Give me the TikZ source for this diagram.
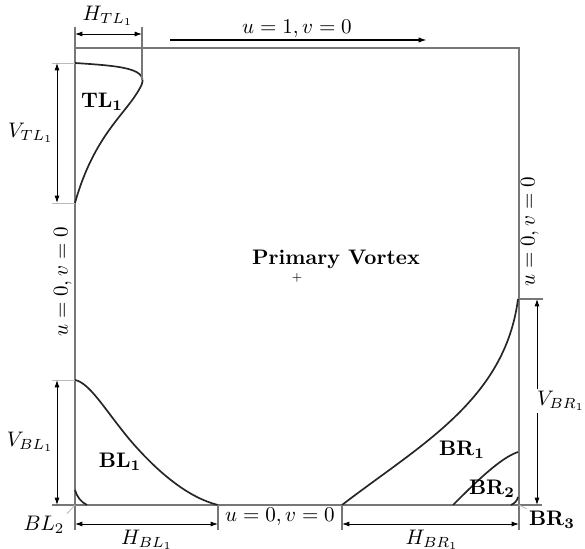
\documentclass[tikz,border=0pt]{standalone}
\usepackage{amsmath,amssymb}
\usepackage{tikz}
\usetikzlibrary{arrows.meta,positioning,calc}
\usepackage{xcolor}
\definecolor{wallgray}{HTML}{777777}
\definecolor{extgray}{HTML}{BBBBBB}

\tikzset{
  wall/.style={draw=wallgray, line width=0.5pt},
  extline/.style={draw=extgray, line width=0.4pt},
  dimline/.style={draw=black, line width=0.45pt, {Latex[length=3.5pt,width=2.4pt]}-{Latex[length=3.5pt,width=2.4pt]}},
  eddyline/.style={draw=black!85, line width=0.8pt, line join=round},
  lbl/.style={inner sep=1pt}
}

\begin{document}
\begin{tikzpicture}[x=0.475pt, y=-0.475pt]
  \useasboundingbox (0,0) rectangle (585,549);

  % cavity corners and wall ends
  \coordinate (tl) at (75,48);
  \coordinate (tr) at (519,48);
  \coordinate (br) at (519,505);
  \coordinate (bl) at (75,505);
  \coordinate (lwtop) at (75,27);
  \coordinate (lwbot) at (75,530);
  \coordinate (rwbot) at (519,530);
  \coordinate (bwleft) at (52,505);
  \coordinate (bwright) at (542,505);

  % walls
  \draw[wall] (lwtop) -- (lwbot);
  \draw[wall] (tl) -- (tr) -- (rwbot);
  \draw[wall] (bwleft) -- (bwright);

  % moving lid
  \coordinate (lidA) at (170,40);
  \coordinate (lidB) at (427,40);
  \draw[line width=0.8pt, -{Latex[length=4pt,width=2.6pt]}] (lidA) -- (lidB);
  \node[lbl] (lidtxt) at (297,29) {$u=1, v=0$};

  % wall conditions
  \node[lbl, rotate=90] (leftbc) at (63,282) {$u=0, v=0$};
  \node[lbl, rotate=90] (rightbc) at (530,232) {$u=0, v=0$};
  \node[lbl] (botbc) at (280,517) {$u=0, v=0$};

  % primary vortex
  \node[lbl] (pvtxt) at (336,259) {\textbf{Primary Vortex}};
  \node[inner sep=0pt] (pvc) at (297,278) {\tiny$+$};

  % secondary eddies
  \draw[eddyline] (75,63) .. controls (120,66) and (152,68) .. (140,88)
    .. controls (126,114) and (94,135) .. (75,203);
  \draw[eddyline] (75,380) .. controls (90,383) and (105,410) .. (130,440)
    .. controls (160,475) and (190,498) .. (218,505);
  \draw[eddyline] (75,490) .. controls (77,497) and (81,502) .. (87,505);
  \draw[eddyline] (342,505) .. controls (420,445) and (505,400) .. (518,299);
  \draw[eddyline] (453,505) .. controls (475,483) and (500,458) .. (518,452);
  \draw[eddyline] (511,505) .. controls (515,503) and (517,501) .. (518,497);

  \node[lbl] (tl1) at (102,102) {$\mathbf{TL_1}$};
  \node[lbl] (bl1) at (120,462) {$\mathbf{BL_1}$};
  \node[lbl] (br1) at (462,450) {$\mathbf{BR_1}$};
  \node[lbl] (br2) at (492,489) {$\mathbf{BR_2}$};
  \node[lbl] (br3) at (552,520) {$\mathbf{BR_3}$};
  \node[lbl] (bl2) at (44,525) {$BL_2$};
  \draw[extline] (bl) -- (bl2.north east);
  \draw[extline] (br) -- (br3.north west);

  % extension lines
  \coordinate (htlA) at (75,34);
  \coordinate (htlB) at (142,34);
  \coordinate (htlext) at (142,27);
  \coordinate (tlapex) at (142,80);
  \draw[wall] (htlext) -- (tlapex);
  \coordinate (vtlA) at (57,63);
  \coordinate (vtlB) at (57,203);
  \draw[extline] (52,63) -- (75,63);
  \draw[extline] (52,203) -- (75,203);
  \coordinate (vblA) at (57,380);
  \coordinate (vblB) at (57,505);
  \draw[extline] (52,380) -- (75,380);
  \coordinate (hblA) at (75,524);
  \coordinate (hblB) at (218,524);
  \draw[wall] (218,505) -- (218,530);
  \coordinate (hbrA) at (342,524);
  \coordinate (hbrB) at (519,524);
  \draw[wall] (342,505) -- (342,530);
  \coordinate (vbrA) at (537,299);
  \coordinate (vbrB) at (537,505);
  \draw[wall] (519,299) -- (543,299);

  % dimensions
  \draw[dimline] (htlA) -- (htlB);
  \node[lbl] (htltxt) at (108,16) {$H_{TL_1}$};
  \draw[dimline] (vtlA) -- (vtlB);
  \node[lbl, anchor=east] (vtltxt) at (56,133) {$V_{TL_1}$};
  \draw[dimline] (vblA) -- (vblB);
  \node[lbl, anchor=east] (vbltxt) at (56,442) {$V_{BL_1}$};
  \draw[dimline] (hblA) -- (hblB);
  \node[lbl] (hbltxt) at (147,540) {$H_{BL_1}$};
  \draw[dimline] (hbrA) -- (hbrB);
  \node[lbl] (hbrtxt) at (432,540) {$H_{BR_1}$};
  \draw[dimline] (vbrA) -- (vbrB);
  \node[lbl, fill=white] (vbrtxt) at (561,401) {$V_{BR_1}$};
\end{tikzpicture}
\end{document}
